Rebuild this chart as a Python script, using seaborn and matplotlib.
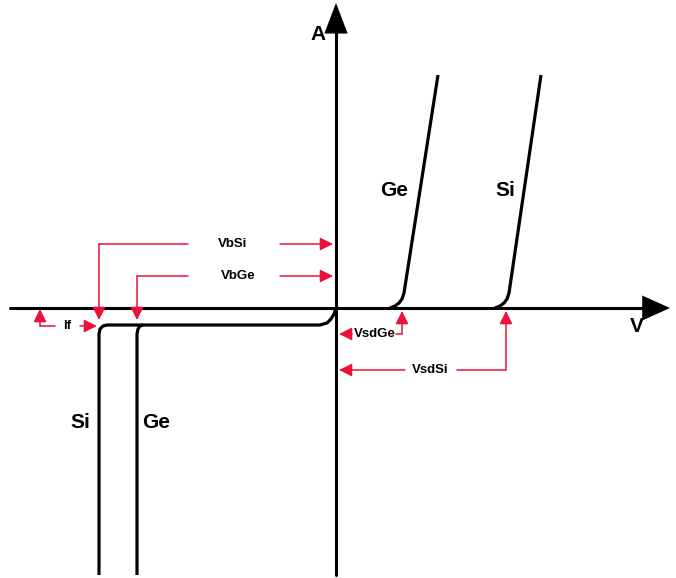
import matplotlib
matplotlib.use("Agg")
import matplotlib.pyplot as plt
import seaborn as sns
import pandas as pd

# ── Curve data (V, A) — schematic units, origin at axes crossing ─────────────
ge_fwd_v = [54, 59, 63, 66, 68, 102]
ge_fwd_i = [0, 2, 5, 9, 15, 233]
si_fwd_v = [159, 164, 168, 171, 173, 205]
si_fwd_i = [0, 2, 5, 9, 15, 233]
rev_v = [0, -2, -5, -9, -16, -229, -233, -236, -237, -237]
rev_i = [0, -6, -11, -15, -17, -17, -18, -21, -26, -267]
ge_rev_v = [-193, -196, -198, -199, -199]
ge_rev_i = [-17, -18, -21, -26, -267]

RED = "#e8123c"
sns.set_style("white")
plt.rcParams["font.family"] = ["Liberation Sans", "DejaVu Sans"]
plt.rcParams["text.color"] = "black"

fig = plt.figure(figsize=(6.76, 5.78), dpi=100)
ax = fig.add_axes([0, 0, 1, 1])
ax.set_xlim(-336, 340)
ax.set_ylim(-270, 308)
ax.axis("off")

curves = [(ge_fwd_v, ge_fwd_i), (si_fwd_v, si_fwd_i),
          (rev_v, rev_i), (ge_rev_v, ge_rev_i)]
for v, i in curves:
    df = pd.DataFrame({"V": v, "A": i})
    sns.lineplot(data=df, x="V", y="A", ax=ax, sort=False, estimator=None,
                 color="black", lw=2.3, solid_capstyle="butt", zorder=3)
ax.set_xlabel("")
ax.set_ylabel("")

# axes with arrow heads
ax.plot([-326, 318], [0, 0], color="black", lw=2.2, zorder=2)
ax.plot([0, 0], [-267, 285], color="black", lw=2.2, zorder=2)
ax.annotate("", xy=(334, 0), xytext=(310, 0),
            arrowprops=dict(arrowstyle="-|>,head_length=1.0,head_width=0.45",
                            color="black", lw=0, mutation_scale=20, shrinkA=0, shrinkB=0))
ax.annotate("", xy=(0, 305), xytext=(0, 280),
            arrowprops=dict(arrowstyle="-|>,head_length=1.1,head_width=0.42",
                            color="black", lw=0, mutation_scale=20, shrinkA=0, shrinkB=0))

big = dict(fontsize=15, fontweight="bold", ha="center", va="center", color="black")
ax.text(-18, 273, "A", **big)
ax.text(301, -18, "V", **big)
ax.text(58, 118, "Ge", **big)
ax.text(169, 118, "Si", **big)
ax.text(-256, -114, "Si", **big)
ax.text(-180, -114, "Ge", **big)


def red_arrow(x0, y0, x1, y1):
    ax.annotate("", xy=(x1, y1), xytext=(x0, y0),
                arrowprops=dict(arrowstyle="-|>,head_length=0.6,head_width=0.3",
                                color=RED, lw=1.1, mutation_scale=13,
                                shrinkA=0, shrinkB=0), zorder=4)


def red_line(xs, ys):
    ax.plot(xs, ys, color=RED, lw=1.1, zorder=4)


small = dict(fontsize=9.5, fontweight="bold", ha="center", va="center", color="black")

# VbSi
red_line([-148, -237], [64, 64])
red_arrow(-237, 64, -237, -12)
ax.text(-103, 64, "VbSi", **small)
red_arrow(-56, 64, -3, 64)
# VbGe
red_line([-148, -199], [32, 32])
red_arrow(-199, 32, -199, -12)
ax.text(-98, 32, "VbGe", **small)
red_arrow(-56, 32, -3, 32)
# If
red_line([-281, -296], [-18, -18])
red_arrow(-296, -18, -296, -1)
ax.text(-269, -18, "If", **small)
red_arrow(-256, -18, -239, -18)
# VsdGe
red_arrow(16, -26, 3, -26)
ax.text(39, -26, "VsdGe", **small)
red_line([60, 66], [-26, -26])
red_arrow(66, -26, 66, -3)
# VsdSi
red_arrow(69, -62, 3, -62)
ax.text(94, -62, "VsdSi", **small)
red_line([121, 170], [-62, -62])
red_arrow(170, -62, 170, -3)

fig.savefig("out.png", dpi=100)
